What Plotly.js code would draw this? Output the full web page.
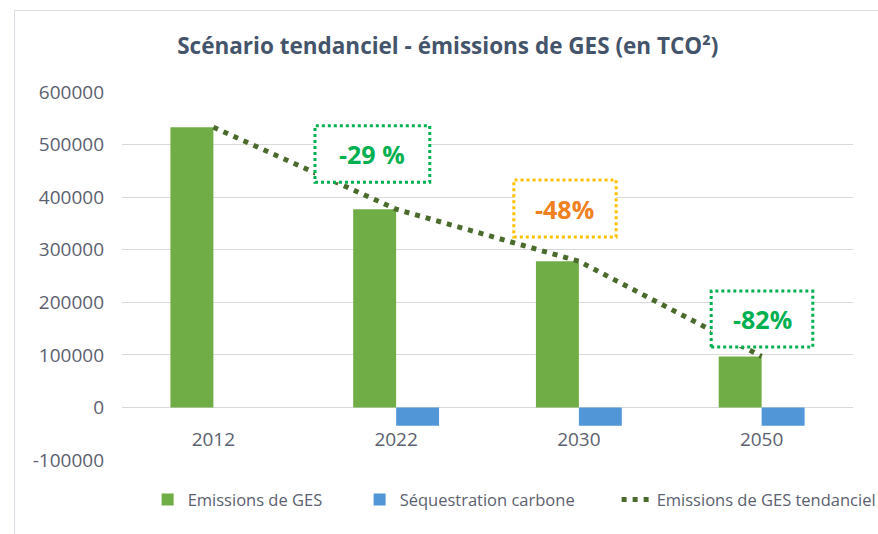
<!DOCTYPE html>
<html>
<head>
<meta charset="utf-8">
<script src="https://cdn.plot.ly/plotly-3.0.1.min.js"></script>
<style>
  html, body { margin: 0; padding: 0; background: #ffffff; }
  #frame { position: absolute; left: 14px; top: 10px; width: 900px; height: 600px;
           border-left: 1px solid #D9DEE5; border-top: 1px solid #D9DEE5; pointer-events: none; z-index: 5; }
  #chart { width: 878px; height: 534px; }
</style>
</head>
<body>
<div id="frame"></div>
<div id="chart"></div>
<script>
// ---- Data ----
const categories = ['2012', '2022', '2030', '2050'];
const emissions = [533000, 377000, 278000, 97000];
const sequestration = [null, -35000, -35000, -35000];
const trend = [533000, 377000, 278000, 97000];
const yTicks = [-100000, 0, 100000, 200000, 300000, 400000, 500000, 600000];
const labels = ['-29 %', '-48%', '-82%'];

const font = 'Open Sans, Lato, sans-serif';
const textColor = '#5B6170';

const traces = [
  {
    type: 'bar', name: 'Emissions de GES', x: categories, y: emissions,
    marker: { color: '#70AD47', line: { width: 0 } }, hoverinfo: 'skip', legendwidth: 167
  },
  {
    type: 'bar', name: 'Séquestration carbone', x: categories, y: sequestration,
    marker: { color: '#5197D8', line: { width: 0 } }, hoverinfo: 'skip', legendwidth: 212
  },
  {
    type: 'scatter', mode: 'lines', name: 'Emissions de GES tendanciel', x: categories, y: trend,
    line: { color: '#4A6B2C', width: 5, dash: '5px,6px' }, hoverinfo: 'skip', legendwidth: 225
  }
];

const boxStyles = [
  { x0: 0.264, x1: 0.421, y0: 0.755, y1: 0.908, border: '#00B050', text: '#00B050', tx: 0.342, ty: 0.832 },
  { x0: 0.536, x1: 0.676, y0: 0.606, y1: 0.761, border: '#FFC000', text: '#F08020', tx: 0.606, ty: 0.683 },
  { x0: 0.806, x1: 0.945, y0: 0.307, y1: 0.459, border: '#00B050', text: '#00B050', tx: 0.876, ty: 0.383 }
];

const shapes = boxStyles.map(b => ({
  type: 'rect', xref: 'paper', yref: 'paper', x0: b.x0, x1: b.x1, y0: b.y0, y1: b.y1,
  line: { color: b.border, width: 3, dash: 'dot' }, fillcolor: '#ffffff', layer: 'above'
}));

const annotations = boxStyles.map((b, i) => ({
  xref: 'paper', yref: 'paper', x: b.tx, y: b.ty, xanchor: 'center', yanchor: 'middle',
  text: '<b>' + labels[i] + '</b>',
  showarrow: false, font: { family: font, size: 25, color: b.text }
}));

const layout = {
  width: 878, height: 534,
  margin: { l: 122, r: 25, t: 92, b: 74, autoexpand: false },
  paper_bgcolor: '#ffffff', plot_bgcolor: '#ffffff',
  title: {
    text: '<b>Scénario tendanciel - émissions de GES (en TCO²)</b>',
    font: { family: font, size: 22.5, color: '#44546A' },
    x: 0.51, xanchor: 'center', y: 0.913, yanchor: 'middle'
  },
  barmode: 'group', bargap: 0.53, bargroupgap: 0,
  xaxis: {
    type: 'category', categoryorder: 'array', categoryarray: categories,
    anchor: 'free', position: 0.144,
    showgrid: false, showline: false, zeroline: false, ticks: '',
    ticklabelstandoff: 19,
    tickfont: { family: font, size: 19, color: textColor }
  },
  yaxis: {
    range: [-100000, 600000], tickvals: yTicks, ticktext: yTicks.map(String),
    showgrid: true, gridcolor: '#D9D9D9', gridwidth: 1,
    zeroline: true, zerolinecolor: '#D9D9D9', zerolinewidth: 1,
    showline: false, ticks: '', ticklabelstandoff: 17,
    tickfont: { family: font, size: 19, color: textColor }
  },
  legend: {
    orientation: 'h', x: 1.046, xanchor: 'right', y: -0.108, yanchor: 'middle',
    font: { family: font, size: 16.5, color: textColor }, traceorder: 'normal'
  },
  shapes: shapes,
  annotations: annotations,
  showlegend: true
};

Plotly.newPlot('chart', traces, layout, { displayModeBar: false, staticPlot: true });
</script>
</body>
</html>
